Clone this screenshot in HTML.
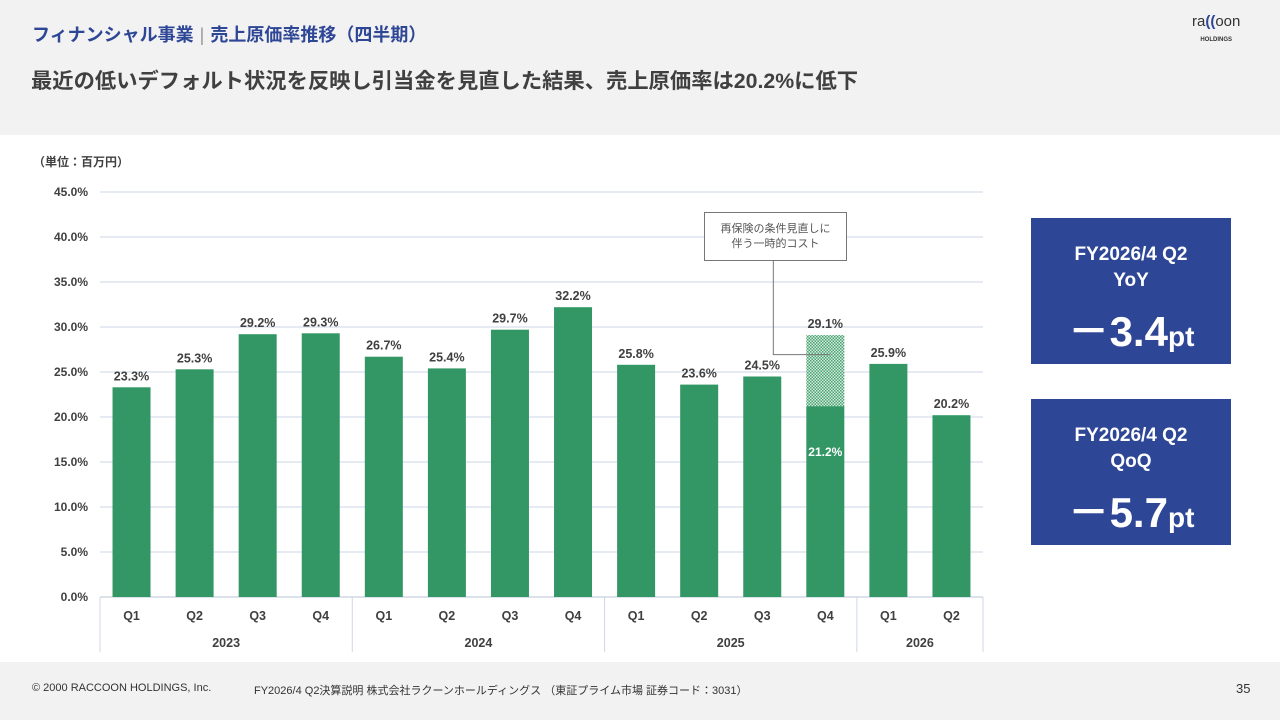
<!DOCTYPE html>
<html><head><meta charset="utf-8"><style>
body{margin:0;width:1280px;height:720px;background:#f2f2f2;font-family:"Liberation Sans","Noto Sans CJK JP",sans-serif;position:relative;overflow:hidden}
.abs{position:absolute}
.kpi{position:absolute;left:1031px;width:200px;height:146px;background:#2e4696;color:#fff;text-align:center;font-weight:bold}
</style></head><body>
<div class="abs" style="left:32px;top:21px;font-size:18px;font-weight:bold;color:#2e4696">フィナンシャル事業<span style="color:#999;font-weight:normal;margin:0 6px">|</span>売上原価率推移（四半期）</div>
<div class="abs" style="left:1192px;top:14px;color:#333;font-size:15px;text-align:center;line-height:15px">ra<span style="color:#2e4696;font-weight:bold">((</span>oon<br><span style="font-size:6px;font-weight:bold">HOLDINGS</span></div>
<div class="abs" style="left:31px;top:64px;font-size:21.3px;font-weight:bold;color:#404040">最近の低いデフォルト状況を反映し引当金を見直した結果、売上原価率は20.2%に低下</div>
<div class="abs" style="left:0;top:135px;width:1280px;height:527px;background:#fff"></div>
<div class="abs" style="left:33px;top:153px;font-size:12px;color:#404040;font-weight:bold">（単位：百万円）</div>
<svg class="abs" style="left:0;top:0" width="1280" height="720" id="chart">
<defs><pattern id="hatch" width="3" height="3" patternUnits="userSpaceOnUse"><rect width="3" height="3" fill="#d4ebdc"/><rect width="1.5" height="1.5" fill="#4aa374"/><rect x="1.5" y="1.5" width="1.5" height="1.5" fill="#4aa374"/></pattern></defs>
</svg>
<div class="abs" style="left:704px;top:212px;width:143px;height:49px;border:1px solid #777;background:#fff;font-size:11px;color:#555;text-align:center;line-height:15px;padding-top:9px;box-sizing:border-box">再保険の条件見直しに<br>伴う一時的コスト</div>
<div class="kpi" style="top:218px"><div style="margin-top:24px;font-size:19px;line-height:26px">FY2026/4 Q2<br>YoY</div><div style="font-size:42px;margin-top:4px">－3.4<span style="font-size:28px">pt</span></div></div>
<div class="kpi" style="top:399px"><div style="margin-top:24px;font-size:19px;line-height:26px">FY2026/4 Q2<br>QoQ</div><div style="font-size:42px;margin-top:4px">－5.7<span style="font-size:28px">pt</span></div></div>
<div class="abs" style="left:32px;top:682px;font-size:11px;color:#333">© 2000 RACCOON HOLDINGS, Inc.</div>
<div class="abs" style="left:254px;top:682px;font-size:11px;color:#333">FY2026/4 Q2決算説明 株式会社ラクーンホールディングス （東証プライム市場 証券コード：3031）</div>
<div class="abs" style="left:1236px;top:681px;font-size:13px;color:#333">35</div>
<script>
const quarters=["Q1","Q2","Q3","Q4","Q1","Q2","Q3","Q4","Q1","Q2","Q3","Q4","Q1","Q2"];
const values=[23.3,25.3,29.2,29.3,26.7,25.4,29.7,32.2,25.8,23.6,24.5,29.1,25.9,20.2];
const baseValues=[null,null,null,null,null,null,null,null,null,null,null,21.2,null,null];
const years=["2023","2024","2025","2026"];
const yearCounts=[4,4,4,2];
const yTicks=[0,5,10,15,20,25,30,35,40,45];
const svg=document.getElementById('chart');const NS="http://www.w3.org/2000/svg";
const X0=100,X1=983,Y0=597,Y1=192,YMAX=45;
const step=(X1-X0)/quarters.length;
const y=v=>Y0-(v/YMAX)*(Y0-Y1);
const xc=i=>X0+step*(i+0.5);
function mk(t,a,txt){const e=document.createElementNS(NS,t);for(const k in a)e.setAttribute(k,a[k]);if(txt!=null)e.textContent=txt;svg.appendChild(e);return e;}
yTicks.forEach(v=>{
const g=mk('line',{x1:X0,x2:X1,y1:y(v),y2:y(v),stroke:v===0?'#d0d8e4':'#dde4ee','stroke-width':1.5});


const t=mk('text',{x:88,y:y(v)+4,'text-anchor':'end','font-size':12,'font-weight':'bold',fill:'#404040'},v.toFixed(1)+'%');


});
const bw=38;
values.forEach((v,i)=>{
const b=baseValues[i];
if(b!=null){
const h=mk('rect',{x:xc(i)-bw/2,y:y(v),width:bw,height:y(b)-y(v),fill:'url(#hatch)'});


const r=mk('rect',{x:xc(i)-bw/2,y:y(b),width:bw,height:Y0-y(b),fill:'#329764'});


const bl=mk('text',{x:xc(i),y:y(b)+50,'text-anchor':'middle','font-size':12,'font-weight':'bold',fill:'#fff'},b.toFixed(1)+'%');


const c=mk('polyline',{points:`${xc(i)+5},${y((v+b)/2)-16} ${xc(i)-52},${y((v+b)/2)-16} ${xc(i)-52},261`,fill:'none',stroke:'#777','stroke-width':1});


}else{
const r=mk('rect',{x:xc(i)-bw/2,y:y(v),width:bw,height:Y0-y(v),fill:'#329764'});


}
const l=mk('text',{x:xc(i),y:y(v)-7,'text-anchor':'middle','font-size':12.5,'font-weight':'bold',fill:'#404040'},v.toFixed(1)+'%');


const q=mk('text',{x:xc(i),y:620,'text-anchor':'middle','font-size':12.5,'font-weight':'bold',fill:'#404040'},quarters[i]);


});
let start=0;
const d0=mk('line',{x1:X0,x2:X0,y1:Y0,y2:652,stroke:'#d0d8e4','stroke-width':1});


years.forEach((yr,k)=>{
const n=yearCounts[k];const xe=X0+step*(start+n);
const d=mk('line',{x1:xe,x2:xe,y1:Y0,y2:652,stroke:'#d0d8e4','stroke-width':1});


const t=mk('text',{x:X0+step*(start+n/2),y:647,'text-anchor':'middle','font-size':12.5,'font-weight':'bold',fill:'#404040'},yr);


start+=n;});
</script>
</body></html>
